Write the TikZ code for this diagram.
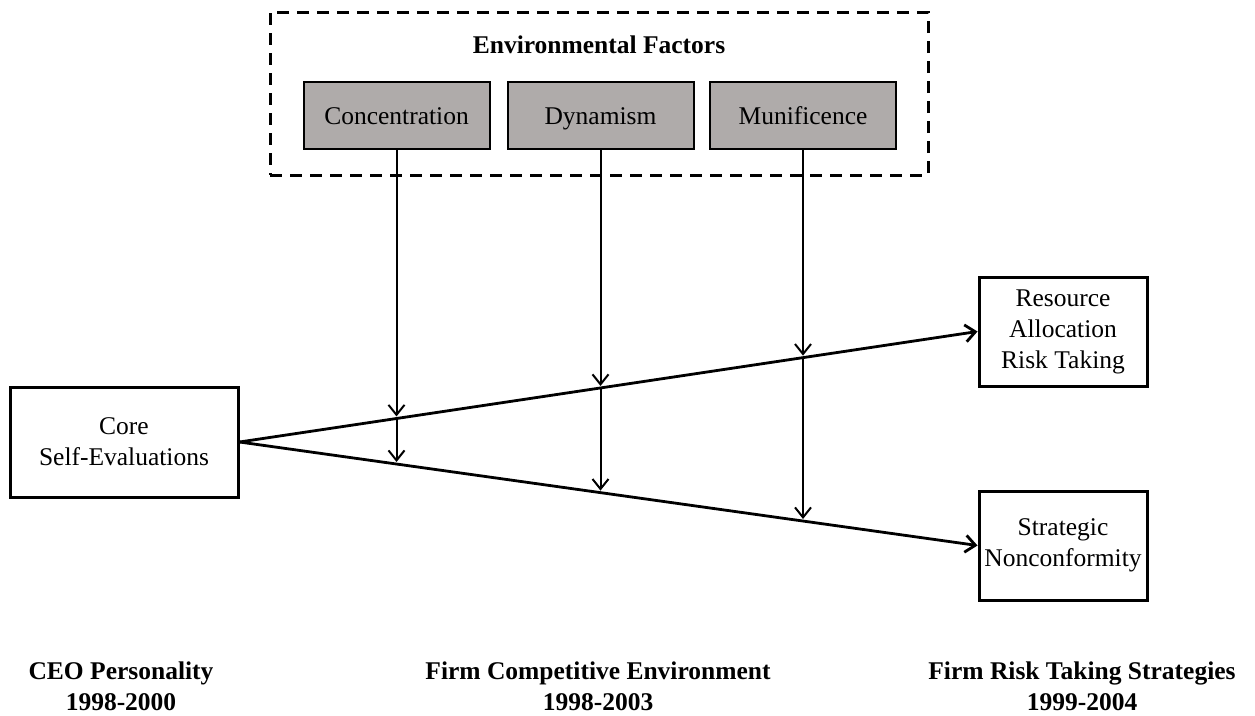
\documentclass[tikz,border=0pt]{standalone}
\usepackage{fontspec}
\setmainfont{Liberation Serif}
\usetikzlibrary{arrows.meta,calc}
\definecolor{boxgrey}{RGB}{175,171,170}
\tikzset{
  txt/.style={font=\fontsize{25.5}{31}\selectfont, align=center, inner sep=0pt},
  btxt/.style={font=\bfseries\fontsize{25.5}{31}\selectfont, align=center, inner sep=0pt},
  whitebox/.style={txt, draw=black, line width=3pt, rectangle},
  greybox/.style={font=\fontsize{25.5}{31}\selectfont, inner sep=0pt, text height=18pt, text depth=0pt,
                  draw=black, line width=2pt, fill=boxgrey, rectangle,
                  minimum width=186pt, minimum height=67pt},
  frame/.style={draw=black, line width=3pt, dash pattern=on 12pt off 8pt, rectangle,
                minimum width=658pt, minimum height=163pt, inner sep=0pt},
  mainarrow/.style={line width=2.8pt, -{Straight Barb[length=10pt,width=17pt]}},
  varrow/.style={line width=2pt, shorten >=2pt, -{Straight Barb[length=10pt,width=16pt]}}
}
\begin{document}
\begin{tikzpicture}[x=1pt,y=-1pt]
\useasboundingbox (0,0) rectangle (1255,715);

% environmental factors frame
\node[frame] (env) at (599,93.5) {};
\node[btxt] (envtitle) at (599,45) {Environmental Factors};
\node[greybox] (conc) at (396.5,115.5) {Concentration};
\node[greybox] (dyn) at (600.5,115.5) {Dynamism};
\node[greybox] (mun) at (803,115.5) {Munificence};

% main boxes
\node[whitebox, minimum width=228pt, minimum height=110pt] (core) at (124,442) {Core\\Self-Evaluations};
\node[whitebox, minimum width=168pt, minimum height=109pt] (res) at (1063,331.5) {Resource\\Allocation\\Risk Taking};
\node[whitebox, minimum width=168pt, minimum height=109pt] (str) at (1063,545.5) {Strategic\\Nonconformity};

% main arrows
\draw[mainarrow] (core.east) -- (res.west);
\draw[mainarrow] (core.east) -- (str.west);

% vertical moderator arrows
\coordinate (concend) at ([yshift=-600pt]conc.south);
\coordinate (dynend) at ([yshift=-600pt]dyn.south);
\coordinate (munend) at ([yshift=-600pt]mun.south);
\coordinate (cu0) at (intersection of core.east--res.west and conc.south--concend);
\coordinate (cl0) at (intersection of core.east--str.west and conc.south--concend);
\coordinate (du0) at (intersection of core.east--res.west and dyn.south--dynend);
\coordinate (dl0) at (intersection of core.east--str.west and dyn.south--dynend);
\coordinate (mu0) at (intersection of core.east--res.west and mun.south--munend);
\coordinate (ml0) at (intersection of core.east--str.west and mun.south--munend);
\coordinate (cu) at (conc.south |- cu0);
\coordinate (cl) at (conc.south |- cl0);
\coordinate (du) at (dyn.south |- du0);
\coordinate (dl) at (dyn.south |- dl0);
\coordinate (mu) at (mun.south |- mu0);
\coordinate (ml) at (mun.south |- ml0);
\draw[varrow] (conc.south) -- (cu);
\draw[varrow] (cu) -- (cl);
\draw[varrow] (dyn.south) -- (du);
\draw[varrow] (du) -- (dl);
\draw[varrow] (mun.south) -- (mu);
\draw[varrow] (mu) -- (ml);

% bottom labels
\node[btxt] (lab1) at (121,686) {CEO Personality\\1998-2000};
\node[btxt] (lab2) at (598,686) {Firm Competitive Environment\\1998-2003};
\node[btxt] (lab3) at (1082,686) {Firm Risk Taking Strategies\\1999-2004};
\end{tikzpicture}
\end{document}
